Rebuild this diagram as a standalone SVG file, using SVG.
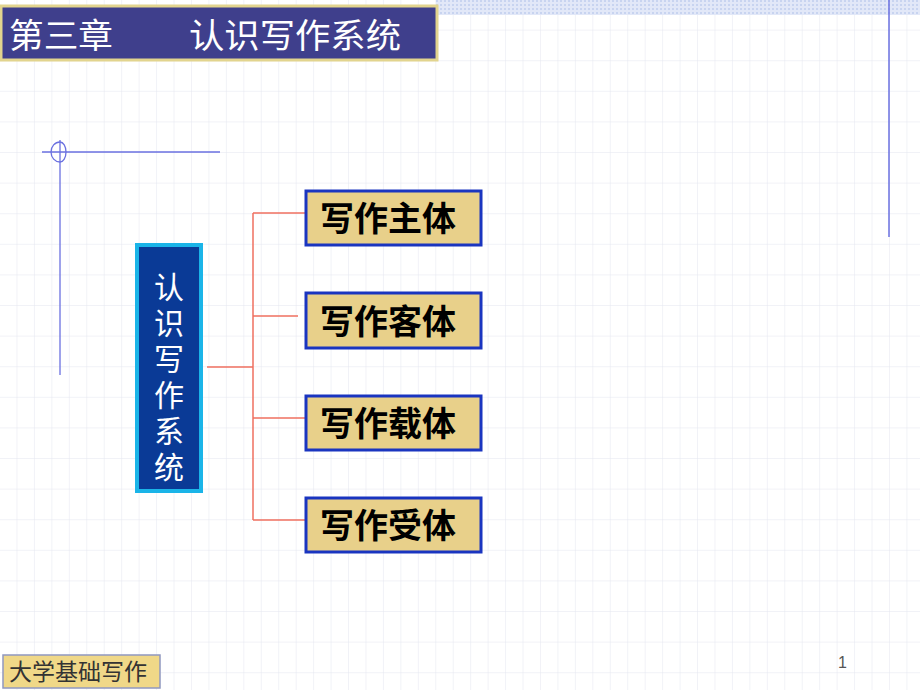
<svg xmlns="http://www.w3.org/2000/svg" width="920" height="690" viewBox="0 0 920 690">
<defs>
<pattern id="grid" width="17.45" height="30.6" patternUnits="userSpaceOnUse" x="0" y="0">
<path d="M17.45 0V30.6M0 30.6H17.45" fill="none" stroke="#E4E6F0" stroke-width="1"/>
</pattern>
<pattern id="dots" width="4" height="4" patternUnits="userSpaceOnUse">
<rect width="4" height="4" fill="#E2E8F8"/><rect width="2" height="2" fill="#C8D4F0"/>
</pattern>
<style>
.box{fill:#E8D08A;stroke:#1A35C0;stroke-width:3}
.bt{font-family:"Noto Sans CJK SC",sans-serif;font-size:34px;font-weight:bold;fill:#000;text-anchor:middle}
.ct{font-family:"Noto Sans CJK SC",sans-serif;font-size:30px;fill:#fff;text-anchor:middle}
.conn{stroke:#F07060;stroke-width:1.5;fill:none}
</style>
</defs>
<rect width="920" height="690" fill="#fff"/>
<rect width="920" height="690" fill="url(#grid)"/>
<rect x="436" y="0" width="484" height="15" fill="url(#dots)"/>
<line x1="889" y1="0" x2="889" y2="237" stroke="#6A70E0" stroke-width="1.5"/>
<g id="title">
<rect x="1" y="6" width="436" height="54" fill="#3F3F8C" stroke="#E2D48E" stroke-width="3"/>
<text x="9" y="48" font-family="Noto Sans CJK SC,sans-serif" font-size="34" fill="#fff" textLength="104" lengthAdjust="spacingAndGlyphs">第三章</text>
<text x="189" y="48" font-family="Noto Sans CJK SC,sans-serif" font-size="34" fill="#fff" textLength="212" lengthAdjust="spacingAndGlyphs">认识写作系统</text>
</g>
<g id="deco" stroke="#6A70E0" stroke-width="1.3" fill="none">
<line x1="42" y1="152" x2="220" y2="152"/>
<line x1="60" y1="140" x2="60" y2="375"/>
<path d="M60 142 A9 10 0 0 0 60 162 A6 10 0 0 0 60 142"/>
</g>
<g id="connectors">
<path class="conn" d="M207 367H253M253 213V520M253 213H305M253 316H298M253 418H305M253 520H305"/>
</g>
<g id="center">
<rect x="137" y="245" width="64" height="246" fill="#0A3A96" stroke="#1AB4E8" stroke-width="4"/>
<text class="ct" x="169" y="298">认</text>
<text class="ct" x="169" y="334">识</text>
<text class="ct" x="169" y="370">写</text>
<text class="ct" x="169" y="406">作</text>
<text class="ct" x="169" y="442">系</text>
<text class="ct" x="169" y="478">统</text>
</g>
<g id="n1"><rect class="box" x="306" y="191" width="175" height="54"/><text class="bt" x="388" y="231">写作主体</text></g>
<g id="n2"><rect class="box" x="306" y="293" width="175" height="55"/><text class="bt" x="388" y="334">写作客体</text></g>
<g id="n3"><rect class="box" x="306" y="396" width="175" height="54"/><text class="bt" x="388" y="436">写作载体</text></g>
<g id="n4"><rect class="box" x="306" y="498" width="175" height="54"/><text class="bt" x="388" y="538">写作受体</text></g>
<g id="footer">
<rect x="3" y="655" width="157" height="33" fill="#F0D888" stroke="#9098C0" stroke-width="1.5"/>
<text x="9" y="680" font-family="Noto Sans CJK SC,sans-serif" font-size="23" fill="#333">大学基础写作</text>
<text x="838" y="668" font-family="Liberation Sans,sans-serif" font-size="16" fill="#555">1</text>
</g>
</svg>
